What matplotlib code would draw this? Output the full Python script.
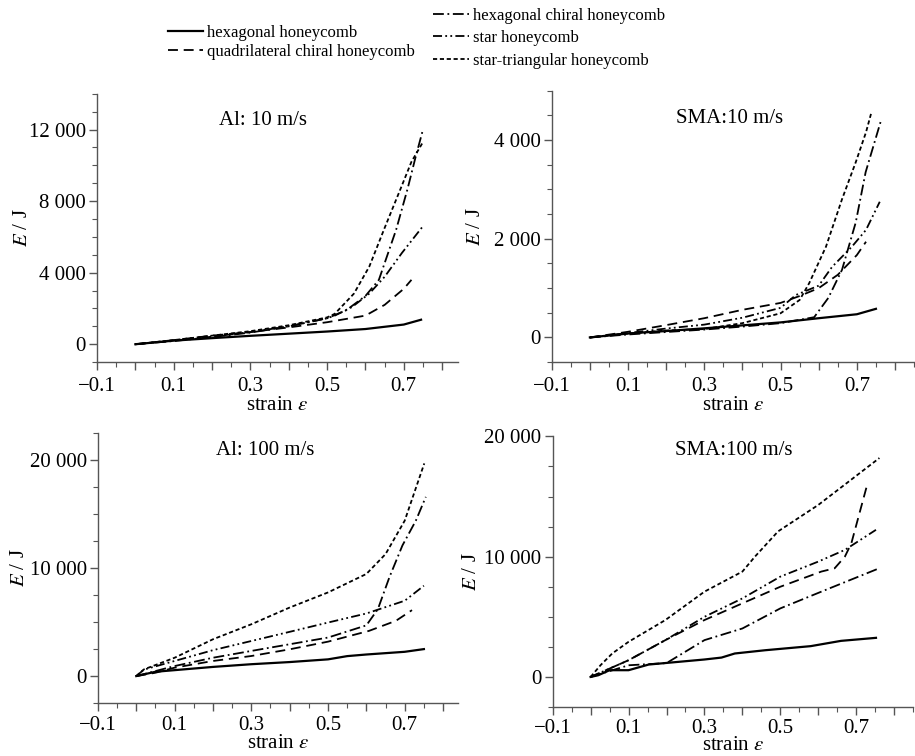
import matplotlib
matplotlib.use("Agg")
import matplotlib.pyplot as plt
from matplotlib.ticker import MultipleLocator, FixedLocator, FuncFormatter
from matplotlib.lines import Line2D

plt.rcParams['font.family'] = ['Liberation Serif', 'DejaVu Serif']
plt.rcParams['mathtext.fontset'] = 'stix'

labels = ["hexagonal honeycomb", "quadrilateral chiral honeycomb",
          "hexagonal chiral honeycomb", "star honeycomb", "star-triangular honeycomb"]

# ---- Al: 10 m/s ----
al10_hex_x = [0, 0.1, 0.2, 0.3, 0.4, 0.5, 0.6, 0.7, 0.745]
al10_hex_y = [0, 200, 340, 470, 590, 710, 850, 1100, 1370]
al10_quad_x = [0, 0.1, 0.2, 0.3, 0.4, 0.5, 0.6, 0.65, 0.7, 0.72]
al10_quad_y = [0, 230, 480, 680, 940, 1230, 1600, 2200, 3100, 3600]
al10_hchir_x = [0, 0.1, 0.2, 0.3, 0.4, 0.5, 0.55, 0.6, 0.635, 0.68, 0.71, 0.73, 0.75]
al10_hchir_y = [0, 180, 400, 650, 1000, 1450, 1900, 2700, 3600, 6400, 8700, 10400, 12000]
al10_star_x = [0, 0.1, 0.2, 0.3, 0.4, 0.5, 0.52, 0.565, 0.61, 0.65, 0.695, 0.75]
al10_star_y = [0, 200, 420, 680, 1000, 1450, 1600, 2080, 2830, 3770, 5100, 6600]
al10_stri_x = [0, 0.1, 0.2, 0.3, 0.4, 0.5, 0.52, 0.57, 0.61, 0.65, 0.695, 0.72, 0.75]
al10_stri_y = [0, 230, 480, 730, 1060, 1500, 1700, 2830, 4340, 6500, 8870, 10200, 11300]

# ---- SMA: 10 m/s ----
sma10_hex_x = [0, 0.1, 0.2, 0.3, 0.4, 0.5, 0.6, 0.7, 0.75]
sma10_hex_y = [0, 80, 130, 185, 245, 305, 390, 470, 580]
sma10_quad_x = [0, 0.1, 0.2, 0.3, 0.4, 0.5, 0.55, 0.6, 0.65, 0.7, 0.724]
sma10_quad_y = [0, 115, 250, 390, 560, 700, 840, 1000, 1270, 1670, 1940]
sma10_hchir_x = [0, 0.1, 0.2, 0.3, 0.4, 0.5, 0.588, 0.625, 0.661, 0.697, 0.723, 0.763]
sma10_hchir_y = [0, 60, 110, 160, 220, 290, 410, 800, 1370, 2330, 3350, 4390]
sma10_star_x = [0, 0.1, 0.2, 0.3, 0.4, 0.5, 0.54, 0.6, 0.635, 0.687, 0.724, 0.76]
sma10_star_y = [0, 90, 180, 260, 400, 600, 860, 1050, 1430, 1840, 2180, 2750]
sma10_stri_x = [0, 0.1, 0.2, 0.3, 0.4, 0.5, 0.55, 0.575, 0.619, 0.661, 0.697, 0.724, 0.737]
sma10_stri_y = [0, 80, 140, 170, 290, 490, 760, 1100, 1840, 2800, 3550, 4160, 4530]

# ---- Al: 100 m/s ----
al100_hex_x = [0, 0.05, 0.1, 0.2, 0.3, 0.4, 0.5, 0.55, 0.6, 0.7, 0.75]
al100_hex_y = [0, 400, 550, 850, 1100, 1300, 1550, 1850, 2000, 2250, 2500]
al100_quad_x = [0, 0.05, 0.1, 0.2, 0.3, 0.4, 0.5, 0.607, 0.677, 0.719]
al100_quad_y = [0, 310, 780, 1400, 1860, 2480, 3190, 4190, 5120, 6110]
al100_hchir_x = [0, 0.1, 0.2, 0.3, 0.4, 0.5, 0.6, 0.63, 0.66, 0.694, 0.729, 0.755]
al100_hchir_y = [0, 930, 1700, 2330, 2950, 3570, 4700, 6200, 9150, 12100, 14400, 16600]
al100_star_x = [0, 0.02, 0.1, 0.2, 0.3, 0.4, 0.5, 0.6, 0.7, 0.75]
al100_star_y = [0, 600, 1400, 2400, 3250, 4100, 4960, 5800, 6980, 8370]
al100_stri_x = [0, 0.02, 0.1, 0.2, 0.3, 0.4, 0.5, 0.6, 0.65, 0.7, 0.751]
al100_stri_y = [0, 620, 1700, 3410, 4800, 6350, 7750, 9460, 11300, 14400, 19700]

# ---- SMA: 100 m/s ----
sma100_hex_x = [0, 0.02, 0.05, 0.1, 0.153, 0.3, 0.345, 0.38, 0.46, 0.58, 0.66, 0.752]
sma100_hex_y = [0, 140, 560, 560, 1030, 1450, 1610, 1950, 2220, 2560, 3000, 3250]
sma100_quad_x = [0, 0.1, 0.197, 0.3, 0.4, 0.5, 0.608, 0.643, 0.67, 0.687, 0.73]
sma100_quad_y = [0, 1390, 3060, 4730, 6120, 7500, 8760, 9030, 10000, 11100, 16120]
sma100_hchir_x = [0, 0.1, 0.2, 0.3, 0.4, 0.5, 0.608, 0.761]
sma100_hchir_y = [0, 970, 1150, 3060, 4030, 5700, 7090, 9040]
sma100_star_x = [0, 0.1, 0.197, 0.3, 0.4, 0.5, 0.6, 0.67, 0.752]
sma100_star_y = [0, 1390, 3060, 5000, 6530, 8340, 9590, 10560, 12230]
sma100_stri_x = [0, 0.026, 0.057, 0.1, 0.197, 0.3, 0.4, 0.433, 0.494, 0.6, 0.761]
sma100_stri_y = [0, 970, 1950, 2920, 4730, 7090, 8760, 10000, 12100, 14300, 18200]

titles = ["Al: 10 m/s", "SMA:10 m/s", "Al: 100 m/s", "SMA:100 m/s"]

styles = [
    dict(ls='-', lw=1.6),
    dict(ls=(0, (5.5, 3.2)), lw=1.3),
    dict(ls=(0, (6, 2, 1, 2)), lw=1.3),
    dict(ls=(0, (5, 1.8, 1, 1.8, 1, 1.8)), lw=1.3),
    dict(ls=(0, (2.3, 1.5)), lw=1.3),
]

panels = [
    dict(data=[(al10_hex_x, al10_hex_y), (al10_quad_x, al10_quad_y), (al10_hchir_x, al10_hchir_y),
               (al10_star_x, al10_star_y), (al10_stri_x, al10_stri_y)],
         rect=[0.106, 0.521, 0.394, 0.355], ylim=(-1000, 14000), xlim=(-0.1, 0.84),
         major=[0, 4000, 8000, 12000], minor=1000, title_pos=(0.46, 0.90), ylab_x=-0.18,
         xlab_pad=0.5, xtick_pad=4.5),
    dict(data=[(sma10_hex_x, sma10_hex_y), (sma10_quad_x, sma10_quad_y), (sma10_hchir_x, sma10_hchir_y),
               (sma10_star_x, sma10_star_y), (sma10_stri_x, sma10_stri_y)],
         rect=[0.603, 0.521, 0.396, 0.359], ylim=(-500, 5000), xlim=(-0.1, 0.85),
         major=[0, 2000, 4000], minor=500, title_pos=(0.49, 0.897), ylab_x=-0.185,
         xlab_pad=0.5, xtick_pad=4.5),
    dict(data=[(al100_hex_x, al100_hex_y), (al100_quad_x, al100_quad_y), (al100_hchir_x, al100_hchir_y),
               (al100_star_x, al100_star_y), (al100_stri_x, al100_stri_y)],
         rect=[0.107, 0.070, 0.394, 0.357], ylim=(-2500, 22500), xlim=(-0.1, 0.84),
         major=[0, 10000, 20000], minor=2500, title_pos=(0.464, 0.937), ylab_x=-0.19,
         xlab_pad=-1.0, xtick_pad=3.5),
    dict(data=[(sma100_hex_x, sma100_hex_y), (sma100_quad_x, sma100_quad_y), (sma100_hchir_x, sma100_hchir_y),
               (sma100_star_x, sma100_star_y), (sma100_stri_x, sma100_stri_y)],
         rect=[0.604, 0.0648, 0.394, 0.358], ylim=(-2500, 20000), xlim=(-0.1, 0.85),
         major=[0, 10000, 20000], minor=2500, title_pos=(0.503, 0.948), ylab_x=-0.20,
         xlab_pad=-1.0, xtick_pad=2.5),
]


def thousands(v, pos):
    return f"{int(round(v)):,}".replace(",", " ")


def xfmt(v, pos):
    k = int(round(v * 10))
    if k % 2 == 0:
        return ""
    return ("\u2212%.1f" % abs(v)) if v < 0 else ("%.1f" % v)


fig = plt.figure(figsize=(9.15, 7.56), dpi=100)
FS = 15
spine_c = '#555555'
for p, title in zip(panels, titles):
    ax = fig.add_axes(p['rect'])
    for (x, y), st in zip(p['data'], styles):
        ax.plot(x, y, color='black', linestyle=st['ls'], linewidth=st['lw'])
    ax.set_xlim(*p['xlim'])
    ax.set_ylim(*p['ylim'])
    for s in ['top', 'right']:
        ax.spines[s].set_visible(False)
    for s in ['left', 'bottom']:
        ax.spines[s].set_color(spine_c)
        ax.spines[s].set_linewidth(1.0)
    ax.xaxis.set_major_locator(MultipleLocator(0.1))
    ax.xaxis.set_minor_locator(MultipleLocator(0.05))
    ax.xaxis.set_major_formatter(FuncFormatter(xfmt))
    ax.yaxis.set_major_locator(FixedLocator(p['major']))
    ax.yaxis.set_minor_locator(MultipleLocator(p['minor']))
    ax.yaxis.set_major_formatter(FuncFormatter(thousands))
    ax.tick_params(which='major', direction='out', length=6, width=1.0, color=spine_c,
                   labelsize=FS)
    ax.tick_params(axis='x', which='major', pad=p['xtick_pad'])
    ax.tick_params(axis='y', which='major', pad=2)
    ax.tick_params(which='minor', direction='out', length=3.5, width=0.8, color=spine_c)
    ax.set_xlabel(r'strain $\varepsilon$', fontsize=FS, labelpad=p['xlab_pad'])
    ax.set_ylabel(r'$E$ / J', fontsize=FS)
    ax.yaxis.set_label_coords(p['ylab_x'], 0.5)
    ax.text(p['title_pos'][0], p['title_pos'][1], title, transform=ax.transAxes,
            ha='center', va='center', fontsize=FS)

handles = [Line2D([], [], color='black', linestyle=st['ls'], linewidth=st['lw']) for st in styles]
fig.legend(handles[:2], labels[:2], loc='upper left', bbox_to_anchor=(0.184, 1.0 - 0.033),
           frameon=False, fontsize=12, handlelength=2.1, handletextpad=0.2,
           labelspacing=0.2, borderpad=0.0, borderaxespad=0.0)
fig.legend(handles[2:], labels[2:], loc='upper left', bbox_to_anchor=(0.473, 1.0 - 0.01),
           frameon=False, fontsize=12, handlelength=2.2, handletextpad=0.2,
           labelspacing=0.4, borderpad=0.0, borderaxespad=0.0)

fig.savefig('out.png', dpi=100)
